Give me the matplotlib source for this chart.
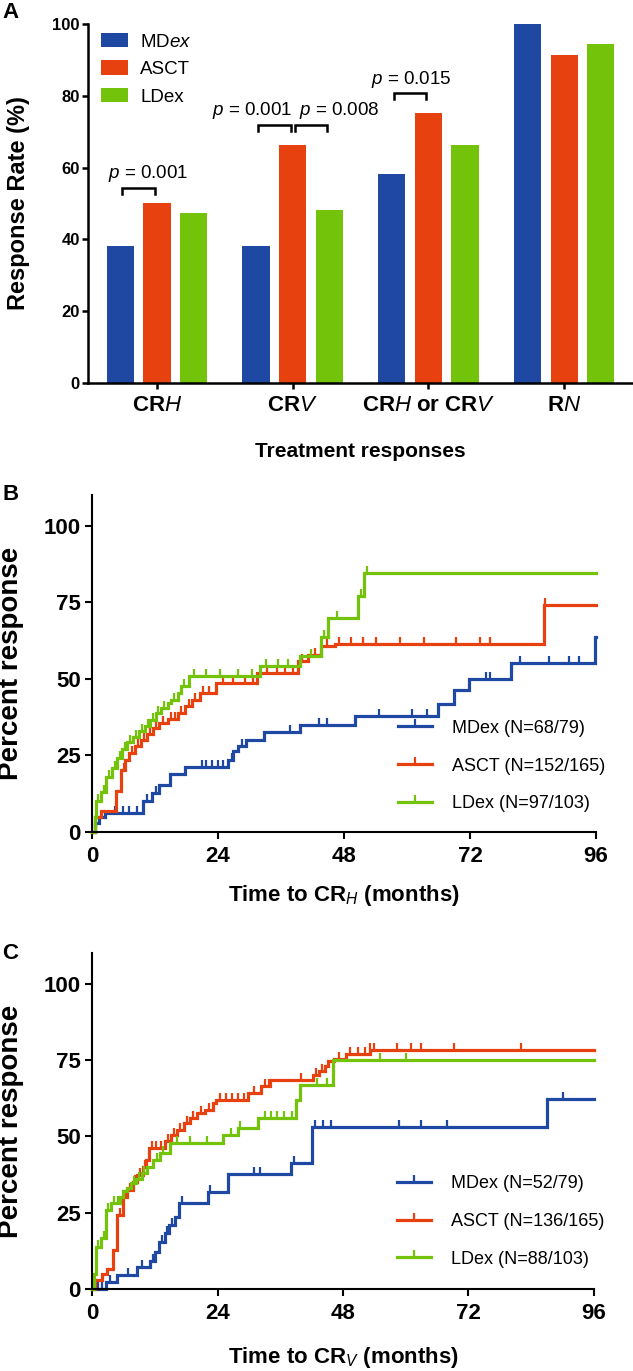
import matplotlib

matplotlib.use("Agg")

import matplotlib.pyplot as plt
from matplotlib.lines import Line2D
import numpy as np

plt.rcParams["font.family"] = ["Liberation Sans", "DejaVu Sans"]
plt.rcParams["mathtext.fontset"] = "custom"
plt.rcParams["mathtext.rm"] = "Liberation Sans"
plt.rcParams["mathtext.it"] = "Liberation Sans:italic"
plt.rcParams["mathtext.bf"] = "Liberation Sans:bold"

BLUE = "#1f48a2"
RED = "#e6410f"
GREEN = "#72c30a"

# ---- panel A: response rates ----
categories = [r"CR$\mathit{H}$", r"CR$\mathit{V}$",
              r"CR$\mathit{H}$ or CR$\mathit{V}$", r"R$\mathit{N}$"]
mdex_rate = [38.2, 38.2, 58.3, 100.0]
asct_rate = [50.2, 66.2, 75.3, 91.4]
ldex_rate = [47.3, 48.2, 66.2, 94.3]
bar_labels = [r"MD$\mathit{ex}$", "ASCT", "LDex"]

# p-value brackets: (category, bar from, bar to)
p_values = ["0.001", "0.001", "0.008", "0.015"]
p_pairs = [(0, 0, 1), (1, 0, 1), (1, 1, 2), (2, 0, 1)]
p_heights = [54.3, 71.9, 71.9, 80.7]

# ---- panel B: time to CR_H (months, cumulative %) ----
b_mdex_t = [0, 0.5, 1.3, 2.5, 9.8, 11.5, 12.8, 14.8, 17.8, 25.9, 26.9, 27.8,
            29.4, 32.8, 39.7, 50.0, 65.9, 68.9, 71.8, 79.9, 95.8]
b_mdex_y = [0, 3, 5, 6.2, 10, 12.7, 15.5, 19, 21.2, 23.6, 26.3, 28,
            30.1, 32.6, 35, 37.8, 41.9, 46.2, 50.1, 55.2, 63.5]
b_mdex_cens = [4.4, 5.9, 7.1, 8.6, 10.5, 12.2, 20.9, 21.8, 22.8, 24.0, 25.0,
               26.7, 28.6, 37.8, 43.2, 44.7, 54.7, 60.9, 63.9, 75.1, 75.9,
               81.6, 87.0, 90.8, 92.8]

b_asct_t = [0, 0.6, 1.7, 4.6, 5.5, 6.3, 7.1, 8.1, 9.4, 10.5, 11.7, 12.8, 14.4,
            16.3, 17.8, 19.0, 20.5, 23.6, 31.4, 39.3, 41.2, 43.7, 46.3, 86.0]
b_asct_y = [0, 5, 6.8, 13.3, 20.3, 23.5, 25.8, 28, 30, 32, 34, 35.5, 37,
            38.8, 41, 43, 45.4, 48.7, 51.9, 55.7, 57.8, 60.6, 61.5, 74.2]
b_asct_cens = [6.0, 7.6, 8.8, 9.9, 11.1, 12.2, 13.5, 15.0, 15.8, 17.0, 18.4,
               19.6, 21.2, 22.2, 25.0, 26.9, 29.1, 30.7, 33.3, 35.2, 36.8,
               38.3, 40.0, 42.5, 44.8, 47.0, 49.3, 51.7, 54.0, 58.6, 63.2,
               69.3, 73.9, 75.9, 86.3]

b_ldex_t = [0, 0.5, 0.8, 1.8, 2.6, 3.8, 4.8, 5.8, 6.7, 7.8, 9.0, 10.0, 11.1,
            12.1, 13.2, 14.4, 15.1, 16.3, 17.0, 18.4, 32.0, 39.6, 43.7, 45.0,
            50.7, 51.8]
b_ldex_y = [0, 5, 10, 13, 18, 21, 24, 27, 29.5, 31, 33, 34.5, 36.7,
            38.8, 40.5, 42, 43, 45.4, 47.5, 50.8, 54.2, 57.5, 63.8, 70,
            77, 84.7]
b_ldex_cens = [1.2, 2.2, 3.2, 4.3, 5.3, 6.2, 7.2, 8.4, 9.5, 10.6, 11.6, 12.6,
               13.8, 15.6, 17.6, 19.4, 21.7, 24.4, 27.8, 30.5, 33.2, 35.5,
               37.4, 41.7, 44.2, 46.7, 51.3, 52.3]

# ---- panel C: time to CR_V ----
c_mdex_t = [0, 2.7, 4.8, 8.6, 11.0, 12.1, 12.9, 13.9, 14.8, 15.8, 16.7,
            22.1, 26.0, 38.0, 42.0, 87.0]
c_mdex_y = [0, 2.4, 4.6, 7.3, 9.2, 12.2, 15.5, 18.3, 21, 23.7, 28.1,
            31.6, 37.6, 41.2, 52.9, 62.2]
c_mdex_cens = [1.1, 2.0, 3.4, 6.9, 9.6, 11.7, 13.4, 14.3, 15.3, 17.3, 22.6,
               31.0, 32.1, 38.6, 42.6, 44.1, 45.7, 58.8, 63.0, 67.8, 90.1]

c_asct_t = [0, 0.5, 2.0, 2.8, 4.0, 4.8, 5.9, 6.7, 7.8, 8.6, 9.8, 10.4, 10.9,
            13.9, 15.2, 16.2, 17.5, 18.7, 20.0, 21.6, 23.2, 23.8, 29.9, 32.4,
            34.0, 42.2, 43.5, 44.5, 45.1, 46.2, 48.6, 53.1]
c_asct_y = [0, 3, 5, 6.5, 12.8, 24.3, 30, 32.5, 35, 37.4, 40, 42.3, 46.3,
            48.3, 50.5, 52.1, 54.3, 56, 57.6, 58.7, 60.9, 62, 64.3, 66.3,
            68.4, 70.2, 71.5, 72.9, 74.6, 75.2, 77, 78.4]
c_asct_cens = [5.4, 6.3, 7.3, 8.2, 9.2, 10.2, 11.5, 12.3, 13.2, 14.5, 15.7,
               16.8, 18.1, 19.3, 20.8, 22.4, 24.5, 25.6, 26.8, 27.9, 29.1,
               31.0, 33.0, 33.9, 39.9, 42.8, 44.0, 47.3, 49.3, 50.8, 52.2,
               53.2, 54.0, 58.4, 61.0, 63.0, 69.2, 82.1]

c_ldex_t = [0, 0.4, 0.7, 1.7, 2.6, 3.6, 5.3, 5.9, 6.6, 7.4, 8.4, 9.5, 10.5,
            11.7, 13.0, 14.9, 25.1, 28.0, 31.8, 39.1, 39.8, 46.1]
c_ldex_y = [0, 5, 13.9, 16.6, 25.9, 28, 30, 32, 33, 34.7, 36, 38, 40.1,
            42.3, 44.5, 47.8, 50.5, 52.7, 56, 62, 66.9, 75.1]
c_ldex_cens = [1.2, 2.2, 3.1, 4.3, 5.0, 8.0, 9.0, 10.0, 12.4, 13.6, 16.2,
               18.7, 21.9, 26.6, 28.3, 33.1, 34.3, 35.4, 36.7, 38.2, 43.0,
               44.9, 55.0, 60.1]

b_labels = ["MDex (N=68/79)", "ASCT (N=152/165)", "LDex (N=97/103)"]
c_labels = ["MDex (N=52/79)", "ASCT (N=136/165)", "LDex (N=88/103)"]
km_ticks = [0, 24, 48, 72, 96]
km_yticks = [0, 25, 50, 75, 100]

W, H = 633, 1371
fig = plt.figure(figsize=(W / 100, H / 100), dpi=100)


def px_axes(left, top, right, bottom):
    return fig.add_axes([left / W, 1 - bottom / H, (right - left) / W, (bottom - top) / H])


# ---------- A ----------
ax = px_axes(88, 24, 632, 383)
x = np.arange(len(categories))
offset, width = 0.27, 0.2
for i, (vals, color, lab) in enumerate(zip((mdex_rate, asct_rate, ldex_rate),
                                            (BLUE, RED, GREEN), bar_labels)):
    ax.bar(x + (i - 1) * offset, vals, width=width, color=color, label=lab)

for (cat, a, b), pv, h, tx, ty in zip(p_pairs, p_values, p_heights,
                                      [-0.063, 0.70, 1.345, 1.875],
                                      [58.3, 75.9, 75.9, 84.6]):
    x0 = cat + (a - 1) * offset + 0.015
    x1 = cat + (b - 1) * offset - 0.015
    ax.plot([x0, x0, x1, x1], [h - 1.6, h, h, h - 1.6], color="black", lw=1.8,
            solid_joinstyle="miter")
    ax.text(tx, ty, r"$\mathit{p}$ = " + pv, ha="center", va="center", fontsize=13.5)

ax.set_xlim(-0.508, 3.5)
ax.set_ylim(0, 100)
ax.set_xticks(x)
ax.set_xticklabels(categories, fontsize=16, fontweight="bold")
ax.set_yticks([0, 20, 40, 60, 80, 100])
ax.tick_params(axis="y", labelsize=12, width=1.8, length=4.5, pad=1.5)
ax.tick_params(axis="x", width=1.8, length=4.5, pad=4)
for lab in ax.get_yticklabels():
    lab.set_fontweight("bold")
for s in ("top", "right"):
    ax.spines[s].set_visible(False)
for s in ("left", "bottom"):
    ax.spines[s].set_linewidth(1.8)
ax.set_ylabel("Response Rate (%)", fontsize=17, fontweight="bold", va="center")
ax.yaxis.set_label_coords(-0.127, 0.5)
ax.set_xlabel("Treatment responses", fontsize=15, fontweight="bold", va="center")
ax.xaxis.set_label_coords(0.5, (383 - 452) / 359)
ax.legend(loc="upper left", bbox_to_anchor=(13 / 544, 1.0 - 9 / 359), frameon=False,
          fontsize=13.5, handlelength=1.45, handleheight=0.8, handletextpad=0.65,
          labelspacing=0.52, borderpad=0, borderaxespad=0)


# ---------- B / C ----------
def km_panel(top, bottom, right, curves, labels, xlabel, xlabel_off, leg_top):
    ax = px_axes(92, top, right, bottom)
    handles = []
    for (t, y, cens), color, lab in zip(curves, (BLUE, RED, GREEN), labels):
        ts = np.array(t + [96.0])
        ys = np.array(y + [y[-1]])
        ax.step(ts, ys, where="post", color=color, lw=2.3, clip_on=False,
                solid_joinstyle="miter")
        cy = ys[np.searchsorted(ts, cens, side="right") - 1]
        ax.plot(cens, cy, linestyle="none", marker=2, markersize=5,
                markeredgewidth=1.6, color=color, clip_on=False)
        handles.append(Line2D([], [], color=color, lw=2.3, marker=2,
                              markersize=5, markeredgewidth=1.6))
    ax.set_xlim(0, 96)
    ax.set_ylim(0, 110)
    ax.set_xticks(km_ticks)
    ax.set_yticks(km_yticks)
    ax.tick_params(labelsize=16, width=1.5, length=5, pad=3)
    ax.tick_params(axis="x", pad=5)
    for lab in ax.get_xticklabels() + ax.get_yticklabels():
        lab.set_fontweight("bold")
    for s in ("top", "right"):
        ax.spines[s].set_visible(False)
    for s in ("left", "bottom"):
        ax.spines[s].set_linewidth(1.5)
    ax.set_ylabel("Percent response", fontsize=20, fontweight="bold", va="center")
    ax.yaxis.set_label_coords(-0.161, 0.5)
    ax.set_xlabel(xlabel, fontsize=16, fontweight="bold", va="center")
    ax.xaxis.set_label_coords(0.5, -xlabel_off / (bottom - top))
    ax.legend(handles, labels, loc="upper left", numpoints=1,
              bbox_to_anchor=(0.607, leg_top), frameon=False, fontsize=13,
              handlelength=1.9, handletextpad=1.1, labelspacing=1.15,
              borderpad=0, borderaxespad=0)
    return ax


km_panel(495, 832, 596,
         [(b_mdex_t, b_mdex_y, b_mdex_cens), (b_asct_t, b_asct_y, b_asct_cens),
          (b_ldex_t, b_ldex_y, b_ldex_cens)],
         b_labels, r"Time to CR$_{\mathit{H}}$ (months)", 64, 0.333)
km_panel(953, 1289, 594,
         [(c_mdex_t, c_mdex_y, c_mdex_cens), (c_asct_t, c_asct_y, c_asct_cens),
          (c_ldex_t, c_ldex_y, c_ldex_cens)],
         c_labels, r"Time to CR$_{\mathit{V}}$ (months)", 69, 0.339)

for letter, ytop in (("A", 2), ("B", 484), ("C", 943)):
    fig.text(2 / W, 1 - ytop / H, letter, fontsize=16, fontweight="bold",
             ha="left", va="top")

fig.savefig("out.png", dpi=100)
plt.close(fig)
